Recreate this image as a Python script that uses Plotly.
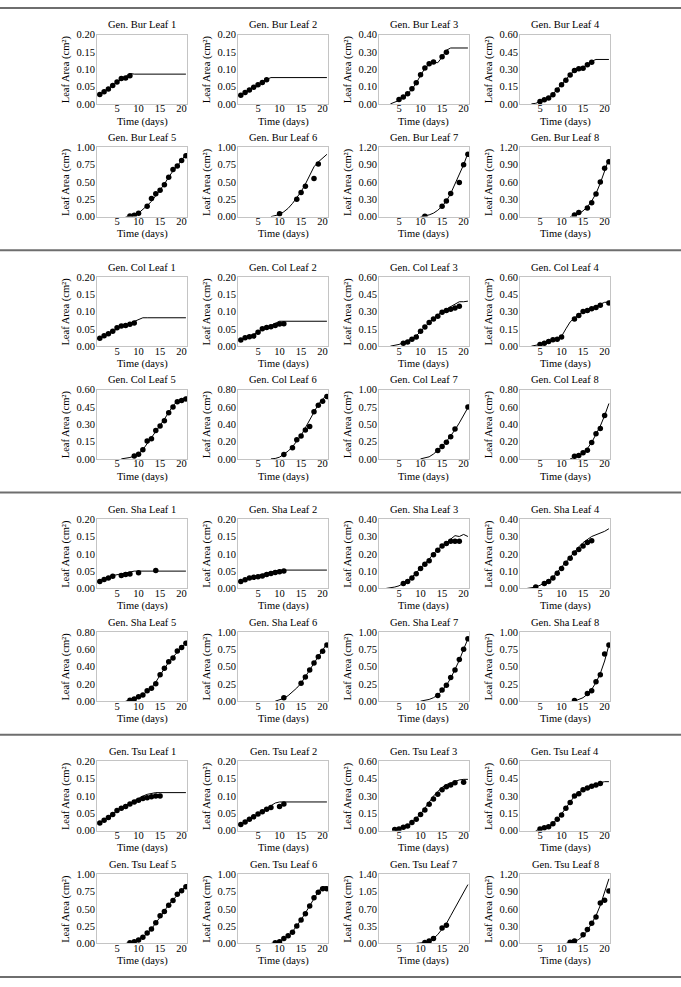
import plotly.graph_objects as go

# ---------------- data ----------------
GENOTYPES = ["Bur", "Col", "Sha", "Tsu"]
LEAVES = [1, 2, 3, 4, 5, 6, 7, 8]
X_TICKS = [5, 10, 15, 20]

BUR_YMAX = [0.20, 0.20, 0.40, 0.60, 1.00, 1.00, 1.20, 1.20]
COL_YMAX = [0.20, 0.20, 0.60, 0.60, 0.60, 0.80, 1.00, 0.80]
SHA_YMAX = [0.20, 0.20, 0.40, 0.40, 0.80, 1.00, 1.00, 1.00]
TSU_YMAX = [0.20, 0.20, 0.60, 0.60, 1.00, 1.00, 1.40, 1.20]

# observed leaf areas (dots)
BUR_OBS_DAY = [
    [1, 2, 3, 4, 5, 6, 7, 8],
    [1, 2, 3, 4, 5, 6, 7],
    [5, 6, 7, 8, 9, 10, 11, 12, 13, 15, 16],
    [5, 6, 7, 8, 9, 10, 11, 12, 13, 14, 15, 16, 17],
    [8, 9, 10, 12, 13, 14, 15, 16, 17, 18, 19, 20, 21],
    [10, 14, 15, 16, 18, 19],
    [11, 15, 16, 17, 19, 20, 21],
    [13, 14, 16, 17, 18, 19, 20, 21],
]
BUR_OBS_AREA = [
    [0.027, 0.035, 0.043, 0.053, 0.063, 0.073, 0.075, 0.081],
    [0.025, 0.033, 0.040, 0.048, 0.055, 0.062, 0.070],
    [0.025, 0.040, 0.058, 0.088, 0.122, 0.168, 0.207, 0.232, 0.242, 0.272, 0.298],
    [0.020, 0.035, 0.050, 0.080, 0.120, 0.165, 0.205, 0.250, 0.290, 0.305, 0.310, 0.340, 0.360],
    [0.010, 0.020, 0.050, 0.150, 0.260, 0.330, 0.380, 0.460, 0.570, 0.680, 0.730, 0.810, 0.880],
    [0.040, 0.250, 0.350, 0.440, 0.550, 0.760],
    [0.005, 0.180, 0.270, 0.400, 0.590, 0.900, 1.080],
    [0.030, 0.070, 0.150, 0.240, 0.390, 0.600, 0.840, 0.950],
]
COL_OBS_DAY = [
    [1, 2, 3, 4, 5, 6, 7, 8, 9],
    [1, 2, 3, 4, 5, 6, 7, 8, 9, 10, 11],
    [6, 7, 8, 9, 10, 11, 12, 13, 14, 15, 16, 17, 18, 19],
    [5, 6, 7, 8, 9, 10, 13, 14, 15, 16, 17, 18, 19, 21],
    [9, 10, 11, 12, 13, 14, 15, 16, 17, 18, 19, 20, 21],
    [11, 13, 14, 15, 16, 17, 18, 19, 20, 21],
    [14, 15, 16, 17, 18, 21],
    [13, 14, 15, 16, 17, 18, 19, 20],
]
COL_OBS_AREA = [
    [0.023, 0.030, 0.036, 0.043, 0.053, 0.058, 0.060, 0.063, 0.067],
    [0.018, 0.024, 0.027, 0.029, 0.040, 0.050, 0.054, 0.056, 0.060, 0.064, 0.065],
    [0.025, 0.035, 0.060, 0.080, 0.130, 0.165, 0.205, 0.235, 0.260, 0.295, 0.310, 0.320, 0.330, 0.345],
    [0.015, 0.025, 0.040, 0.055, 0.060, 0.080, 0.235, 0.265, 0.300, 0.310, 0.325, 0.335, 0.355, 0.375],
    [0.025, 0.040, 0.080, 0.155, 0.175, 0.245, 0.285, 0.330, 0.400, 0.450, 0.495, 0.505, 0.520],
    [0.050, 0.130, 0.220, 0.265, 0.335, 0.375, 0.545, 0.620, 0.665, 0.720],
    [0.120, 0.180, 0.240, 0.320, 0.430, 0.750],
    [0.030, 0.040, 0.070, 0.100, 0.190, 0.290, 0.350, 0.500],
]
SHA_OBS_DAY = [
    [1, 2, 3, 4, 6, 7, 8, 10, 14],
    [1, 2, 3, 4, 5, 6, 7, 8, 9, 10, 11],
    [6, 7, 8, 9, 10, 11, 12, 13, 14, 15, 16, 17, 18, 19],
    [4, 6, 7, 8, 9, 10, 11, 12, 13, 14, 15, 16, 17],
    [8, 9, 10, 11, 12, 13, 14, 15, 16, 17, 18, 19, 20, 21],
    [11, 15, 16, 17, 18, 19, 20, 21],
    [14, 15, 16, 17, 18, 19, 20, 21],
    [13, 16, 17, 18, 19, 20, 21],
]
SHA_OBS_AREA = [
    [0.020, 0.026, 0.030, 0.035, 0.037, 0.040, 0.042, 0.045, 0.052],
    [0.020, 0.025, 0.030, 0.032, 0.034, 0.036, 0.040, 0.043, 0.046, 0.048, 0.050],
    [0.028, 0.040, 0.060, 0.085, 0.115, 0.140, 0.160, 0.195, 0.220, 0.245, 0.260, 0.272, 0.272, 0.272],
    [0.008, 0.028, 0.040, 0.060, 0.088, 0.115, 0.145, 0.175, 0.205, 0.225, 0.245, 0.265, 0.275],
    [0.010, 0.025, 0.050, 0.070, 0.120, 0.150, 0.200, 0.305, 0.380, 0.455, 0.500, 0.580, 0.620, 0.670],
    [0.050, 0.260, 0.350, 0.450, 0.550, 0.640, 0.720, 0.810],
    [0.080, 0.160, 0.230, 0.340, 0.450, 0.600, 0.750, 0.900],
    [0.010, 0.110, 0.150, 0.280, 0.380, 0.680, 0.810],
]
TSU_OBS_DAY = [
    [1, 2, 3, 4, 5, 6, 7, 8, 9, 10, 11, 12, 13, 14, 15],
    [1, 2, 3, 4, 5, 6, 7, 8, 10, 11],
    [4, 5, 6, 7, 8, 9, 10, 11, 12, 13, 14, 15, 16, 17, 18, 20],
    [5, 6, 7, 8, 9, 10, 11, 12, 13, 14, 15, 16, 17, 18, 19],
    [8, 9, 10, 11, 12, 13, 14, 15, 16, 17, 18, 19, 20, 21],
    [9, 10, 11, 12, 13, 14, 15, 16, 17, 18, 19, 20, 21],
    [11, 12, 13, 15, 16],
    [12, 13, 15, 16, 17, 18, 19, 20, 21],
]
TSU_OBS_AREA = [
    [0.022, 0.030, 0.038, 0.047, 0.058, 0.065, 0.070, 0.077, 0.083, 0.088, 0.093, 0.095, 0.098, 0.100, 0.100],
    [0.018, 0.025, 0.033, 0.040, 0.048, 0.055, 0.062, 0.067, 0.070, 0.077],
    [0.010, 0.015, 0.030, 0.040, 0.070, 0.100, 0.140, 0.180, 0.230, 0.275, 0.315, 0.355, 0.380, 0.395, 0.415, 0.420],
    [0.015, 0.025, 0.035, 0.060, 0.100, 0.135, 0.195, 0.245, 0.300, 0.320, 0.355, 0.370, 0.385, 0.395, 0.410],
    [0.010, 0.025, 0.050, 0.090, 0.150, 0.210, 0.300, 0.400, 0.460, 0.550, 0.620, 0.710, 0.760, 0.820],
    [0.010, 0.025, 0.070, 0.110, 0.160, 0.250, 0.340, 0.430, 0.540, 0.660, 0.740, 0.790, 0.790],
    [0.020, 0.050, 0.100, 0.310, 0.370],
    [0.020, 0.040, 0.150, 0.240, 0.350, 0.460, 0.700, 0.750, 0.910],
]

# model fits (lines): first day and daily values up to day 21
BUR_FIT_START = [1, 1, 3, 3, 7, 8, 10, 12]
BUR_FIT_AREA = [
    [0.028, 0.037, 0.045, 0.054, 0.063, 0.071, 0.079, 0.088, 0.086, 0.086, 0.086, 0.086, 0.086, 0.086, 0.086, 0.086, 0.086, 0.086, 0.086, 0.086, 0.086],
    [0.025, 0.033, 0.041, 0.049, 0.057, 0.064, 0.071, 0.076, 0.076, 0.076, 0.076, 0.076, 0.076, 0.076, 0.076, 0.076, 0.076, 0.076, 0.076, 0.076, 0.076],
    [0.000, 0.008, 0.020, 0.038, 0.058, 0.085, 0.120, 0.165, 0.205, 0.228, 0.240, 0.238, 0.270, 0.310, 0.323, 0.323, 0.323, 0.323, 0.323],
    [0.000, 0.005, 0.020, 0.035, 0.055, 0.085, 0.125, 0.170, 0.210, 0.255, 0.290, 0.305, 0.315, 0.345, 0.370, 0.385, 0.385, 0.385, 0.385],
    [0.000, 0.005, 0.020, 0.050, 0.100, 0.160, 0.220, 0.300, 0.380, 0.470, 0.570, 0.660, 0.730, 0.810, 0.900],
    [0.000, 0.010, 0.030, 0.070, 0.120, 0.190, 0.270, 0.360, 0.470, 0.600, 0.720, 0.790, 0.840, 0.900],
    [0.000, 0.010, 0.030, 0.060, 0.110, 0.180, 0.270, 0.400, 0.560, 0.720, 0.900, 1.100],
    [0.000, 0.020, 0.050, 0.100, 0.170, 0.270, 0.400, 0.580, 0.780, 1.000],
]
COL_FIT_START = [1, 1, 3, 3, 6, 8, 10, 12]
COL_FIT_AREA = [
    [0.023, 0.030, 0.036, 0.043, 0.050, 0.056, 0.061, 0.066, 0.072, 0.077, 0.082, 0.082, 0.082, 0.082, 0.082, 0.082, 0.082, 0.082, 0.082, 0.082, 0.082],
    [0.018, 0.023, 0.028, 0.033, 0.040, 0.047, 0.054, 0.060, 0.066, 0.072, 0.072, 0.072, 0.072, 0.072, 0.072, 0.072, 0.072, 0.072, 0.072, 0.072, 0.072],
    [0.000, 0.005, 0.015, 0.030, 0.045, 0.065, 0.090, 0.125, 0.165, 0.205, 0.240, 0.270, 0.300, 0.320, 0.340, 0.360, 0.385, 0.385, 0.390],
    [0.000, 0.005, 0.015, 0.025, 0.040, 0.055, 0.065, 0.085, 0.150, 0.210, 0.245, 0.275, 0.300, 0.315, 0.330, 0.345, 0.365, 0.380, 0.380],
    [0.000, 0.005, 0.012, 0.025, 0.045, 0.080, 0.130, 0.180, 0.235, 0.290, 0.345, 0.405, 0.460, 0.500, 0.520, 0.535],
    [0.000, 0.005, 0.020, 0.050, 0.090, 0.140, 0.200, 0.270, 0.360, 0.450, 0.550, 0.630, 0.690, 0.740],
    [0.000, 0.010, 0.030, 0.070, 0.120, 0.180, 0.250, 0.330, 0.420, 0.520, 0.630, 0.740],
    [0.000, 0.020, 0.040, 0.070, 0.120, 0.190, 0.280, 0.380, 0.500, 0.640],
]
SHA_FIT_START = [1, 1, 2, 2, 7, 9, 10, 13]
SHA_FIT_AREA = [
    [0.022, 0.028, 0.033, 0.037, 0.040, 0.043, 0.045, 0.048, 0.050, 0.050, 0.050, 0.050, 0.050, 0.050, 0.050, 0.050, 0.050, 0.050, 0.050, 0.050, 0.050],
    [0.020, 0.025, 0.030, 0.034, 0.037, 0.041, 0.044, 0.048, 0.051, 0.053, 0.053, 0.053, 0.053, 0.053, 0.053, 0.053, 0.053, 0.053, 0.053, 0.053, 0.053],
    [0.000, 0.002, 0.008, 0.015, 0.028, 0.045, 0.065, 0.090, 0.115, 0.145, 0.170, 0.200, 0.225, 0.248, 0.265, 0.285, 0.305, 0.300, 0.312, 0.300],
    [0.000, 0.003, 0.008, 0.018, 0.030, 0.045, 0.065, 0.095, 0.125, 0.155, 0.185, 0.215, 0.240, 0.265, 0.285, 0.300, 0.310, 0.320, 0.330, 0.345],
    [0.000, 0.010, 0.025, 0.045, 0.075, 0.110, 0.155, 0.220, 0.300, 0.380, 0.450, 0.510, 0.570, 0.620, 0.670],
    [0.000, 0.015, 0.040, 0.080, 0.130, 0.190, 0.260, 0.350, 0.450, 0.550, 0.640, 0.730, 0.830],
    [0.000, 0.010, 0.025, 0.050, 0.090, 0.150, 0.230, 0.330, 0.450, 0.590, 0.750, 0.900],
    [0.000, 0.020, 0.050, 0.100, 0.170, 0.270, 0.400, 0.580, 0.810],
]
TSU_FIT_START = [1, 1, 4, 4, 7, 8, 9, 11]
TSU_FIT_AREA = [
    [0.022, 0.031, 0.040, 0.049, 0.058, 0.066, 0.073, 0.080, 0.087, 0.094, 0.100, 0.105, 0.108, 0.110, 0.110, 0.110, 0.110, 0.110, 0.110, 0.110, 0.110],
    [0.018, 0.026, 0.033, 0.042, 0.050, 0.058, 0.065, 0.073, 0.080, 0.083, 0.083, 0.083, 0.083, 0.083, 0.083, 0.083, 0.083, 0.083, 0.083, 0.083, 0.083],
    [0.000, 0.015, 0.028, 0.045, 0.070, 0.105, 0.145, 0.195, 0.250, 0.300, 0.340, 0.375, 0.400, 0.415, 0.430, 0.440, 0.445, 0.445],
    [0.000, 0.012, 0.025, 0.040, 0.065, 0.100, 0.145, 0.200, 0.255, 0.300, 0.335, 0.360, 0.380, 0.395, 0.405, 0.415, 0.425, 0.425],
    [0.000, 0.008, 0.022, 0.050, 0.090, 0.140, 0.210, 0.290, 0.380, 0.470, 0.560, 0.630, 0.700, 0.770, 0.830],
    [0.000, 0.008, 0.030, 0.065, 0.110, 0.170, 0.250, 0.340, 0.440, 0.550, 0.660, 0.750, 0.820, 0.820],
    [0.000, 0.005, 0.020, 0.050, 0.100, 0.180, 0.280, 0.400, 0.560, 0.720, 0.850, 1.020, 1.190],
    [0.000, 0.010, 0.030, 0.070, 0.130, 0.220, 0.340, 0.480, 0.660, 0.880, 1.120],
]

YMAX = [BUR_YMAX, COL_YMAX, SHA_YMAX, TSU_YMAX]
OBS_DAY = [BUR_OBS_DAY, COL_OBS_DAY, SHA_OBS_DAY, TSU_OBS_DAY]
OBS_AREA = [BUR_OBS_AREA, COL_OBS_AREA, SHA_OBS_AREA, TSU_OBS_AREA]
FIT_START = [BUR_FIT_START, COL_FIT_START, SHA_FIT_START, TSU_FIT_START]
FIT_AREA = [BUR_FIT_AREA, COL_FIT_AREA, SHA_FIT_AREA, TSU_FIT_AREA]

# ---------------- layout ----------------
W, H = 681, 987
FONT = "Liberation Serif"
GROUP_LINES = [3, 248, 493, 738, 983]
COL_LEFT = [97, 238, 379, 520]
PLOT_W, PLOT_H = 90, 70
ROW_TOP = [27, 141]
FRAME = "#c4c4c4"


def px(x):
    return x / W


def py(y):
    return 1 - y / H


fig = go.Figure()
layout = {}
annotations = []
shapes = []

for gi, gen in enumerate(GENOTYPES):
    for li, leaf in enumerate(LEAVES):
        idx = gi * 8 + li + 1
        row, col = li // 4, li % 4
        left = COL_LEFT[col]
        right = left + PLOT_W
        top = GROUP_LINES[gi] + ROW_TOP[row]
        bottom = top + PLOT_H
        xa = "x" if idx == 1 else f"x{idx}"
        ya = "y" if idx == 1 else f"y{idx}"
        xk = "xaxis" if idx == 1 else f"xaxis{idx}"
        yk = "yaxis" if idx == 1 else f"yaxis{idx}"

        start = FIT_START[gi][li]
        vals = FIT_AREA[gi][li]
        fit_days = list(range(start, start + len(vals)))
        fig.add_trace(go.Scatter(x=fit_days, y=vals, mode="lines",
                                 line=dict(color="black", width=1),
                                 xaxis=xa, yaxis=ya, showlegend=False,
                                 hoverinfo="skip"))
        fig.add_trace(go.Scatter(x=OBS_DAY[gi][li], y=OBS_AREA[gi][li],
                                 mode="markers",
                                 marker=dict(color="black", size=5.5),
                                 xaxis=xa, yaxis=ya, showlegend=False))

        ymax = YMAX[gi][li]
        yt = [ymax * k / 4 for k in range(5)]
        common = dict(showline=True, mirror=True, linecolor=FRAME, linewidth=1,
                      showgrid=False, zeroline=False, ticks="",
                      tickfont=dict(family=FONT, size=10.5, color="black"))
        layout[xk] = dict(domain=[px(left), px(right)], anchor=ya,
                          range=[0.35, 21.25], tickvals=X_TICKS,
                          ticklabelstandoff=-5, **common)
        layout[yk] = dict(domain=[py(bottom), py(top)], anchor=xa,
                          range=[0, ymax], tickvals=yt, tickformat=".2f",
                          ticklabelstandoff=-1, **common)

        cx = (left + right) / 2
        annotations.append(dict(text=f"Gen. {gen} Leaf {leaf}", x=px(cx),
                                y=py(top - 10), xref="paper", yref="paper",
                                showarrow=False, xanchor="center",
                                yanchor="middle",
                                font=dict(family=FONT, size=10.5, color="black")))
        annotations.append(dict(text="Time (days)", x=px(cx),
                                y=py(bottom + 18), xref="paper", yref="paper",
                                showarrow=False, xanchor="center",
                                yanchor="middle",
                                font=dict(family=FONT, size=10.5, color="black")))
        annotations.append(dict(text="Leaf Area (cm²)", x=px(left - 31),
                                y=py((top + bottom) / 2), xref="paper",
                                yref="paper", showarrow=False, textangle=-90,
                                xanchor="center", yanchor="middle",
                                font=dict(family=FONT, size=10.5, color="black")))

for yl in GROUP_LINES:
    shapes.append(dict(type="line", xref="paper", yref="paper", x0=0, x1=1,
                       y0=py(yl), y1=py(yl),
                       line=dict(color="#6e6e6e", width=2)))

fig.update_layout(width=W, height=H, margin=dict(l=0, r=0, t=0, b=0),
                  paper_bgcolor="white", plot_bgcolor="white",
                  annotations=annotations, shapes=shapes, **layout)

fig.write_html("out.html", config={"displayModeBar": False})
with open("out.html", "r", encoding="utf-8") as f:
    html = f.read()
html = html.replace("<head>", "<head><style>html,body{margin:0;padding:0;overflow:hidden;}</style>", 1)
with open("out.html", "w", encoding="utf-8") as f:
    f.write(html)
